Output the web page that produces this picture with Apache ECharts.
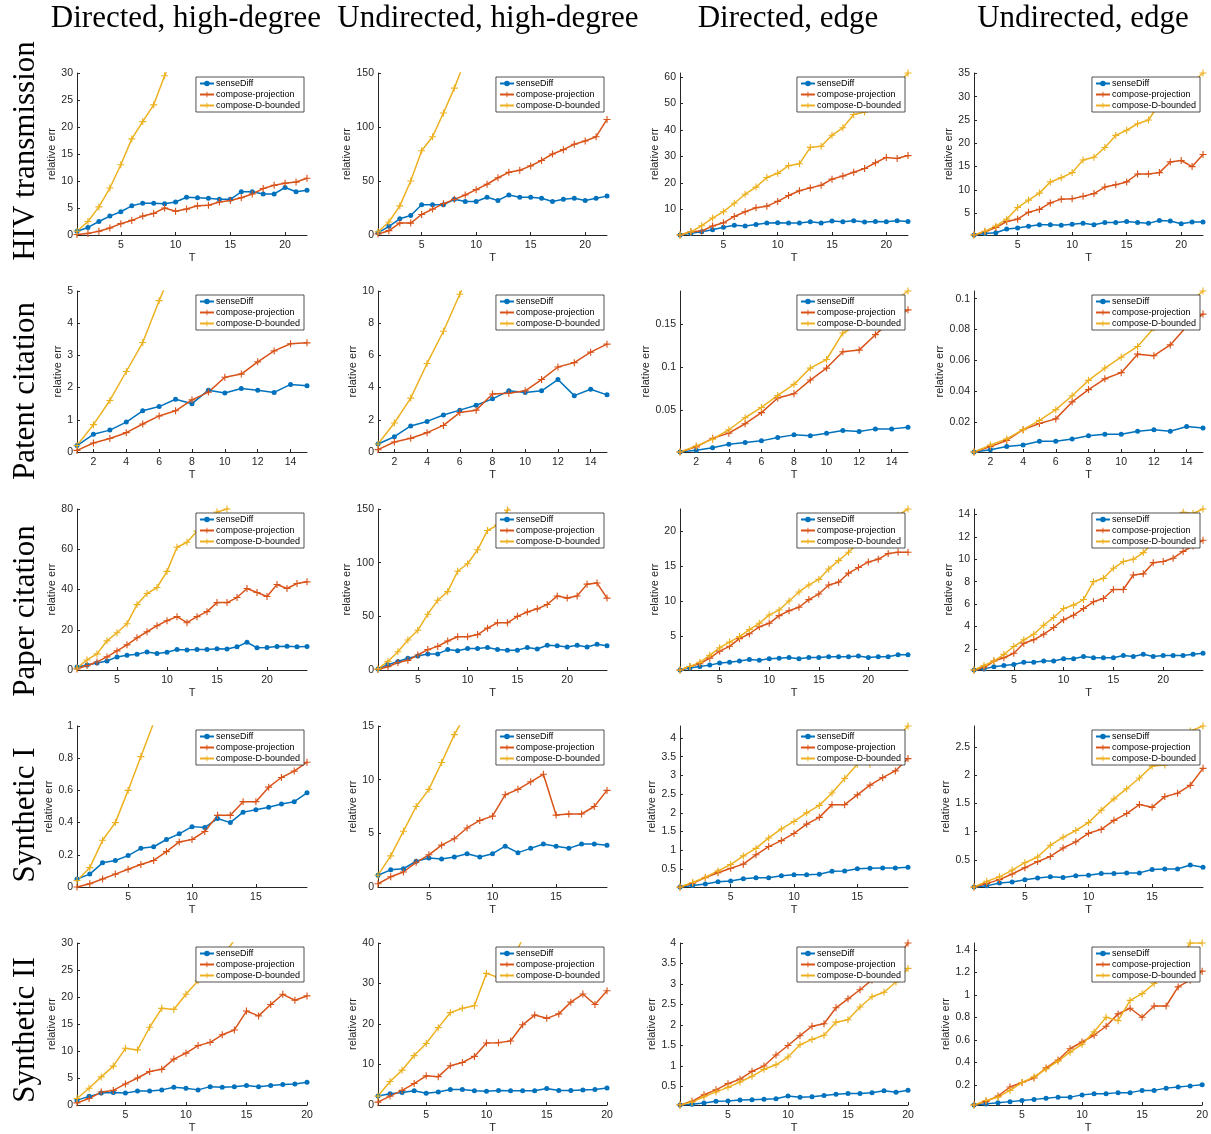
<!DOCTYPE html>
<html><head><meta charset="utf-8">
<script src="https://cdn.jsdelivr.net/npm/echarts@6/dist/echarts.min.js"></script>
<style>html,body{margin:0;padding:0;background:#fff}#c{width:1211px;height:1134px}</style>
</head><body><div id="c"></div>
<script>
// ---------- labels ----------
const colTitles = ['Directed, high-degree', 'Undirected, high-degree', 'Directed, edge', 'Undirected, edge'];
const rowTitles = ['HIV transmission', 'Patent citation', 'Paper citation', 'Synthetic I', 'Synthetic II'];
const seriesNames = ['senseDiff', 'compose-projection', 'compose-D-bounded'];

// ---------- x ticks / ranges per row ----------
const xMax = [22, 15, 24, 19, 20];
const xt_hiv = [5, 10, 15, 20];
const xt_patent = [2, 4, 6, 8, 10, 12, 14];
const xt_paper = [5, 10, 15, 20];
const xt_syn1 = [5, 10, 15];
const xt_syn2 = [5, 10, 15, 20];

// ---------- y ticks per panel ----------
const yt_hiv_dh = [0, 5, 10, 15, 20, 25, 30];
const yt_hiv_uh = [0, 50, 100, 150];
const yt_hiv_de = [10, 20, 30, 40, 50, 60];
const yt_hiv_ue = [5, 10, 15, 20, 25, 30, 35];
const yt_pat_dh = [0, 1, 2, 3, 4, 5];
const yt_pat_uh = [0, 2, 4, 6, 8, 10];
const yt_pat_de = [0.05, 0.1, 0.15];
const yt_pat_ue = [0.02, 0.04, 0.06, 0.08, 0.1];
const yt_pap_dh = [0, 20, 40, 60, 80];
const yt_pap_uh = [0, 50, 100, 150];
const yt_pap_de = [5, 10, 15, 20];
const yt_pap_ue = [2, 4, 6, 8, 10, 12, 14];
const yt_s1_dh = [0, 0.2, 0.4, 0.6, 0.8, 1];
const yt_s1_uh = [0, 5, 10, 15];
const yt_s1_de = [0.5, 1, 1.5, 2, 2.5, 3, 3.5, 4];
const yt_s1_ue = [0.5, 1, 1.5, 2, 2.5];
const yt_s2_dh = [0, 5, 10, 15, 20, 25, 30];
const yt_s2_uh = [0, 10, 20, 30, 40];
const yt_s2_de = [0.5, 1, 1.5, 2, 2.5, 3, 3.5, 4];
const yt_s2_ue = [0.2, 0.4, 0.6, 0.8, 1, 1.2, 1.4];

// ---------- data (T = 1,2,3,...) ----------
// HIV transmission
const hiv_dh_sense = [0.7,1.4,2.5,3.5,4.3,5.4,5.9,5.9,5.8,6.1,7.0,6.9,6.8,6.6,6.6,8.0,8.0,7.6,7.6,8.8,8.0,8.3];
const hiv_dh_proj  = [0.1,0.3,0.7,1.3,2.1,2.7,3.5,4.0,5.0,4.4,4.8,5.4,5.5,6.1,6.4,6.9,7.6,8.6,9.2,9.6,9.8,10.5];
const hiv_dh_bound = [0.7,2.5,5.2,8.7,13.0,17.8,21.0,24.1,29.5,34];
const hiv_uh_sense = [2,8,15,18,28,28,28,33,31,31,35,32,37,35,35,34,31,33,34,32,34,36];
const hiv_uh_proj  = [1,4,11,11,19,24,29,33,37,42,47,53,58,60,64,69,75,79,84,87,91,107];
const hiv_uh_bound = [3,12,27,50,78,91,113,136,162];
const hiv_de_sense = [0.3,1.0,1.5,2.3,3.2,4.0,3.7,4.3,4.8,4.9,4.8,4.8,5.3,4.8,5.6,5.3,5.7,5.2,5.4,5.3,5.7,5.4];
const hiv_de_proj  = [0.3,1.5,1.8,3.7,4.9,7.3,9.1,10.6,11.2,13.0,15.2,17.0,18.1,19.1,21.4,22.6,24.0,25.4,27.6,29.6,29.2,30.3];
const hiv_de_bound = [0.3,1.5,3.8,6.7,9.1,12.3,15.7,18.4,22.0,23.6,26.5,27.2,33.4,33.8,38.0,40.8,45.8,46.8,50.5,54,57,61.5];
const hiv_ue_sense = [0.3,0.6,0.8,1.6,1.8,2.2,2.5,2.5,2.4,2.6,2.8,2.5,3.0,3.0,3.2,3.0,2.8,3.4,3.3,2.7,3.1,3.1];
const hiv_ue_proj  = [0.3,1.0,1.9,3.2,3.7,5.2,5.8,7.2,8.0,8.1,8.6,9.2,10.6,11.1,11.7,13.4,13.4,13.7,16.0,16.3,15.0,17.6];
const hiv_ue_bound = [0.3,1.1,2.2,3.7,6.2,7.8,9.3,11.7,12.6,13.7,16.4,17.0,19.1,21.7,22.8,24.2,25.0,28.5,30,31.5,33,35.1];
// Patent citation
const pat_dh_sense = [0.2,0.55,0.68,0.93,1.28,1.41,1.64,1.50,1.92,1.83,1.97,1.92,1.85,2.10,2.06];
const pat_dh_proj  = [0.05,0.28,0.42,0.60,0.87,1.12,1.28,1.62,1.86,2.32,2.42,2.80,3.14,3.36,3.39];
const pat_dh_bound = [0.2,0.85,1.6,2.5,3.4,4.7,5.9];
const pat_uh_sense = [0.5,0.95,1.62,1.9,2.3,2.6,2.9,3.3,3.8,3.7,3.8,4.5,3.5,3.9,3.55];
const pat_uh_proj  = [0.15,0.62,0.85,1.2,1.65,2.45,2.6,3.6,3.65,3.8,4.5,5.28,5.55,6.2,6.7];
const pat_uh_bound = [0.5,1.8,3.35,5.5,7.5,9.8,12];
const pat_de_sense = [0.001,0.003,0.006,0.010,0.012,0.014,0.018,0.021,0.020,0.023,0.026,0.025,0.028,0.028,0.030];
const pat_de_proj  = [0.001,0.007,0.017,0.023,0.034,0.047,0.064,0.069,0.085,0.099,0.118,0.120,0.138,0.155,0.167];
const pat_de_bound = [0.001,0.008,0.016,0.027,0.041,0.053,0.067,0.080,0.099,0.109,0.140,0.150,0.162,0.175,0.189];
const pat_ue_sense = [0.0005,0.002,0.004,0.005,0.0075,0.0075,0.009,0.011,0.012,0.012,0.014,0.015,0.014,0.017,0.016];
const pat_ue_proj  = [0.0005,0.004,0.008,0.015,0.019,0.022,0.033,0.041,0.048,0.052,0.064,0.063,0.070,0.082,0.090];
const pat_ue_bound = [0.0005,0.005,0.009,0.015,0.021,0.028,0.037,0.047,0.055,0.062,0.069,0.081,0.088,0.096,0.105];
// Paper citation
const pap_dh_sense = [1.5,2.5,3.5,4.5,6.5,7.3,7.8,9,8.2,8.8,10.2,10,10.2,10.2,10.5,10.4,11.5,13.8,11,11.2,11.7,11.8,11.5,11.7];
const pap_dh_proj  = [0.5,2.2,4,6.5,9.5,12.5,16,19,22,24.5,26.5,23.5,26.5,29,33.5,33.5,36,40.5,38.5,36.5,42.5,40.5,43,43.8];
const pap_dh_bound = [1,5,8,14.5,18.5,23,32.5,38,41,49,61,63.5,69,74,78.5,80,86];
const pap_uh_sense = [1,5,8,11,13,15,15,19,18,20,20,21,19,18.5,18.5,21,19.5,23,22.5,21.5,23,21.5,24,22.5];
const pap_uh_proj  = [0.5,3,7,9,14,19,22,27,31,31,33,39,44,44,50,54,57,61,69,67,69,80,81,67];
const pap_uh_bound = [1,8,17,28,37,52,65,73,92,99,112,130,135,149,162];
const pap_de_sense = [0.1,0.4,0.6,0.8,1.1,1.2,1.4,1.6,1.5,1.7,1.8,1.9,1.7,1.9,1.9,2.0,2.0,2.0,2.1,1.9,2.0,2.0,2.3,2.3];
const pap_de_proj  = [0.1,0.6,1.0,1.8,2.8,3.5,4.6,5.3,6.3,6.8,7.9,8.6,9.1,10.2,11.0,12.3,12.7,14.0,14.8,15.6,16.0,16.8,17.0,17.0];
const pap_de_bound = [0.1,0.6,1.2,2.2,3.3,4.1,4.9,5.9,6.8,8.0,8.7,10.0,11.3,12.3,13.1,14.6,15.8,17.0,18.3,19.5,20.5,21.5,22.3,23.2];
const pap_ue_sense = [0.1,0.2,0.4,0.5,0.6,0.8,0.8,0.9,0.9,1.1,1.1,1.3,1.2,1.2,1.2,1.4,1.3,1.5,1.3,1.4,1.4,1.4,1.5,1.6];
const pap_ue_proj  = [0.1,0.3,0.9,1.2,1.6,2.5,2.8,3.3,3.9,4.6,5.0,5.6,6.2,6.5,7.3,7.3,8.6,8.7,9.7,9.8,10.1,10.7,11.2,11.7];
const pap_ue_bound = [0.1,0.5,0.9,1.5,2.2,2.8,3.3,4.1,4.8,5.6,5.9,6.4,8.0,8.3,9.2,9.8,10.0,10.6,11.5,12.3,13.2,14.2,14.1,14.5];
// Synthetic I
const s1_dh_sense = [0.05,0.08,0.15,0.165,0.195,0.24,0.25,0.295,0.33,0.375,0.37,0.425,0.40,0.465,0.48,0.495,0.515,0.53,0.585];
const s1_dh_proj  = [0.0,0.02,0.05,0.08,0.11,0.14,0.165,0.22,0.28,0.295,0.345,0.445,0.445,0.53,0.53,0.62,0.68,0.72,0.775];
const s1_dh_bound = [0.04,0.12,0.29,0.40,0.60,0.81,1.02];
const s1_uh_sense = [1.1,1.6,1.7,2.4,2.7,2.6,2.8,3.1,2.8,3.1,3.8,3.2,3.6,4.0,3.8,3.6,4.0,4.0,3.9];
const s1_uh_proj  = [0.3,0.95,1.4,2.3,3.0,3.9,4.5,5.5,6.2,6.6,8.6,9.1,9.8,10.5,6.7,6.8,6.8,7.5,9.0];
const s1_uh_bound = [1.1,2.9,5.2,7.5,9.1,11.6,14.2,16.3];
const s1_de_sense = [0.02,0.06,0.1,0.16,0.18,0.24,0.27,0.27,0.32,0.35,0.35,0.36,0.44,0.45,0.51,0.52,0.53,0.53,0.55];
const s1_de_proj  = [0.02,0.12,0.27,0.40,0.52,0.63,0.88,1.10,1.26,1.45,1.70,1.88,2.22,2.22,2.48,2.74,2.94,3.12,3.45];
const s1_de_bound = [0.02,0.14,0.28,0.45,0.62,0.85,1.05,1.33,1.57,1.77,2.0,2.2,2.53,2.92,3.3,3.3,3.65,3.95,4.32];
const s1_ue_sense = [0.02,0.04,0.09,0.11,0.15,0.18,0.2,0.19,0.22,0.23,0.26,0.26,0.27,0.27,0.33,0.34,0.34,0.41,0.37];
const s1_ue_proj  = [0.02,0.08,0.15,0.25,0.36,0.47,0.56,0.71,0.82,0.97,1.04,1.2,1.32,1.48,1.43,1.62,1.68,1.82,2.12];
const s1_ue_bound = [0.02,0.12,0.2,0.32,0.45,0.55,0.76,0.9,1.02,1.16,1.38,1.58,1.76,1.95,2.16,2.18,2.45,2.78,2.87];
// Synthetic II
const s2_dh_sense = [0.9,1.6,2.2,2.3,2.2,2.6,2.6,2.8,3.3,3.1,2.8,3.4,3.3,3.4,3.6,3.4,3.6,3.8,3.9,4.2];
const s2_dh_proj  = [0.4,1.2,2.4,2.7,3.9,5.0,6.2,6.6,8.5,9.6,11.0,11.6,13.0,13.9,17.4,16.5,18.6,20.5,19.4,20.2];
const s2_dh_bound = [1.2,3.1,5.2,7.2,10.5,10.2,14.4,17.9,17.7,20.5,23,25.5,27.5,30.5];
const s2_uh_sense = [2.2,2.8,3.1,3.5,2.9,3.2,3.8,3.8,3.5,3.4,3.6,3.5,3.5,3.5,4.1,3.6,3.6,3.7,3.8,4.2];
const s2_uh_proj  = [0.7,2.2,3.6,5.3,7.2,7.0,9.7,10.5,12.0,15.3,15.4,15.8,19.8,22.2,21.4,22.5,25.4,27.4,24.8,28.2];
const s2_uh_bound = [2.2,5.8,8.6,12.2,15.2,19.1,22.8,23.9,24.5,32.5,31.5,35,41];
const s2_de_sense = [0.05,0.07,0.1,0.14,0.15,0.17,0.18,0.19,0.2,0.27,0.24,0.25,0.28,0.31,0.33,0.33,0.35,0.4,0.36,0.41];
const s2_de_proj  = [0.05,0.14,0.3,0.42,0.57,0.68,0.87,1.0,1.27,1.5,1.74,1.97,2.03,2.42,2.64,2.86,3.1,3.35,3.6,4.0];
const s2_de_bound = [0.05,0.12,0.25,0.37,0.48,0.61,0.75,0.92,1.03,1.22,1.52,1.65,1.75,2.07,2.13,2.44,2.69,2.8,3.05,3.38];
const s2_ue_sense = [0.02,0.03,0.04,0.05,0.06,0.07,0.08,0.09,0.09,0.11,0.12,0.12,0.13,0.13,0.15,0.15,0.17,0.18,0.19,0.2];
const s2_ue_proj  = [0.02,0.05,0.1,0.18,0.22,0.26,0.35,0.42,0.52,0.58,0.64,0.72,0.83,0.88,0.8,0.9,0.9,1.07,1.13,1.21];
const s2_ue_bound = [0.02,0.06,0.09,0.15,0.22,0.27,0.34,0.41,0.49,0.56,0.67,0.8,0.77,0.95,1.01,1.1,1.2,1.3,1.46,1.46];

// ---------- panel table built from the arrays ----------
const rows = [
  {xt: xt_hiv, panels: [
    {d: [hiv_dh_sense, hiv_dh_proj, hiv_dh_bound], yt: yt_hiv_dh, min: 0, max: 30},
    {d: [hiv_uh_sense, hiv_uh_proj, hiv_uh_bound], yt: yt_hiv_uh, min: 0, max: 150},
    {d: [hiv_de_sense, hiv_de_proj, hiv_de_bound], yt: yt_hiv_de, min: 'dataMin', max: 'dataMax'},
    {d: [hiv_ue_sense, hiv_ue_proj, hiv_ue_bound], yt: yt_hiv_ue, min: 'dataMin', max: 'dataMax'}]},
  {xt: xt_patent, panels: [
    {d: [pat_dh_sense, pat_dh_proj, pat_dh_bound], yt: yt_pat_dh, min: 0, max: 5},
    {d: [pat_uh_sense, pat_uh_proj, pat_uh_bound], yt: yt_pat_uh, min: 0, max: 10},
    {d: [pat_de_sense, pat_de_proj, pat_de_bound], yt: yt_pat_de, min: 'dataMin', max: 'dataMax'},
    {d: [pat_ue_sense, pat_ue_proj, pat_ue_bound], yt: yt_pat_ue, min: 'dataMin', max: 'dataMax'}]},
  {xt: xt_paper, panels: [
    {d: [pap_dh_sense, pap_dh_proj, pap_dh_bound], yt: yt_pap_dh, min: 0, max: 80},
    {d: [pap_uh_sense, pap_uh_proj, pap_uh_bound], yt: yt_pap_uh, min: 0, max: 150},
    {d: [pap_de_sense, pap_de_proj, pap_de_bound], yt: yt_pap_de, min: 'dataMin', max: 'dataMax'},
    {d: [pap_ue_sense, pap_ue_proj, pap_ue_bound], yt: yt_pap_ue, min: 'dataMin', max: 'dataMax'}]},
  {xt: xt_syn1, panels: [
    {d: [s1_dh_sense, s1_dh_proj, s1_dh_bound], yt: yt_s1_dh, min: 0, max: 1},
    {d: [s1_uh_sense, s1_uh_proj, s1_uh_bound], yt: yt_s1_uh, min: 0, max: 15},
    {d: [s1_de_sense, s1_de_proj, s1_de_bound], yt: yt_s1_de, min: 'dataMin', max: 'dataMax'},
    {d: [s1_ue_sense, s1_ue_proj, s1_ue_bound], yt: yt_s1_ue, min: 'dataMin', max: 'dataMax'}]},
  {xt: xt_syn2, panels: [
    {d: [s2_dh_sense, s2_dh_proj, s2_dh_bound], yt: yt_s2_dh, min: 0, max: 30},
    {d: [s2_uh_sense, s2_uh_proj, s2_uh_bound], yt: yt_s2_uh, min: 0, max: 40},
    {d: [s2_de_sense, s2_de_proj, s2_de_bound], yt: yt_s2_de, min: 'dataMin', max: 'dataMax'},
    {d: [s2_ue_sense, s2_ue_proj, s2_ue_bound], yt: yt_s2_ue, min: 'dataMin', max: 'dataMax'}]}
];

// ---------- layout / style ----------
const W = 1211;
const colLeft = [77, 378, 680, 974];
const colRight = [307, 607, 908, 1203];
const rowTop = [73, 291, 509, 726, 943];
const rowBottom = [235, 452, 670, 887, 1105];
const colTitleX = [186, 488, 788, 1083];
const rowTitleY = [151, 391, 611, 815, 1030];
const colors = ['#0072BD', '#D95319', '#EDB120'];
const plusPath = 'path://M-0.8,-5H0.8V-0.8H5V0.8H0.8V5H-0.8V0.8H-5V-0.8H-0.8Z';
const axisColor = '#262626';
const sans = '"Liberation Sans", Arial, Helvetica, sans-serif';

const grid = [], xAxis = [], yAxis = [], series = [], legend = [], graphic = [];
let k = 0;
rows.forEach((row, r) => {
  row.panels.forEach((p, c) => {
    grid.push({left: colLeft[c], top: rowTop[r], width: colRight[c] - colLeft[c], height: rowBottom[r] - rowTop[r]});
    xAxis.push({
      type: 'value', gridIndex: k, min: 1, max: xMax[r],
      axisLine: {lineStyle: {color: axisColor, width: 1}},
      axisTick: {inside: true, length: 3, customValues: row.xt, lineStyle: {color: axisColor}},
      axisLabel: {customValues: row.xt, fontSize: 10.5, color: axisColor, margin: 5, fontFamily: sans},
      splitLine: {show: false},
      name: 'T', nameLocation: 'middle', nameGap: 17,
      nameTextStyle: {fontSize: 11, color: axisColor, fontFamily: sans}
    });
    const maxChars = Math.max(...p.yt.map(v => String(v).length));
    yAxis.push({
      type: 'value', gridIndex: k, min: p.min, max: p.max, scale: true,
      axisLine: {show: true, lineStyle: {color: axisColor, width: 1}},
      axisTick: {show: true, inside: true, length: 3, customValues: p.yt, lineStyle: {color: axisColor}},
      axisLabel: {customValues: p.yt, fontSize: 10.5, color: axisColor, margin: 4, fontFamily: sans},
      splitLine: {show: false},
      name: 'relative err', nameLocation: 'middle', nameGap: 5 + maxChars * 5.6,
      nameTextStyle: {fontSize: 11, color: axisColor, fontFamily: sans}
    });
    p.d.forEach((vals, s) => {
      series.push({
        type: 'line', name: seriesNames[s], xAxisIndex: k, yAxisIndex: k,
        data: vals.map((v, i) => [i + 1, v]),
        symbol: s === 0 ? 'circle' : plusPath,
        symbolSize: s === 0 ? 5 : 7,
        showSymbol: true, clip: true,
        lineStyle: {width: 1.5, color: colors[s]},
        itemStyle: {color: colors[s]},
        emphasis: {disabled: true}
      });
    });
    legend.push({
      data: seriesNames, orient: 'vertical',
      right: W - (colRight[c] - 3), top: rowTop[r] + 4,
      backgroundColor: '#fff', borderColor: axisColor, borderWidth: 0.8,
      padding: [2, 4, 2, 3], itemWidth: 14, itemHeight: 7, itemGap: 2,
      textStyle: {fontSize: 9, fontFamily: sans, color: '#000', padding: [0, 0, 0, -3]},
      selectedMode: false, z: 10
    });
    k++;
  });
});

colTitles.forEach((t, i) => graphic.push({
  type: 'text', x: colTitleX[i], y: 19,
  style: {text: t, font: '31px "Liberation Serif", "Times New Roman", serif', fill: '#000',
    align: 'center', verticalAlign: 'middle', textAlign: 'center', textVerticalAlign: 'middle'}
}));
rowTitles.forEach((t, i) => graphic.push({
  type: 'text', x: 26, y: rowTitleY[i], rotation: Math.PI / 2,
  style: {text: t, font: '31px "Liberation Serif", "Times New Roman", serif', fill: '#000',
    align: 'center', verticalAlign: 'middle', textAlign: 'center', textVerticalAlign: 'middle'}
}));

const chart = echarts.init(document.getElementById('c'), null, {renderer: 'canvas'});
chart.setOption({
  animation: false, backgroundColor: '#fff',
  grid, xAxis, yAxis, series, legend, graphic
});
</script></body></html>
